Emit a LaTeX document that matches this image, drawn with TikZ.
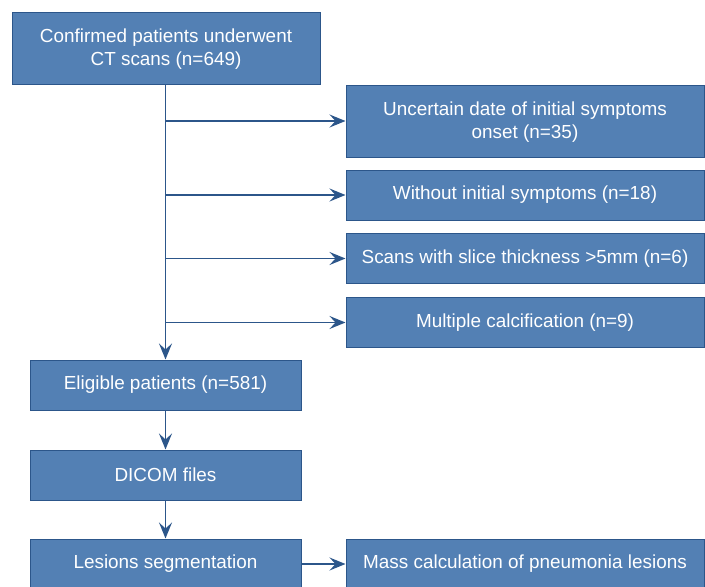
\documentclass[tikz,border=0pt]{standalone}
\usepackage{fontspec}
\setmainfont{Liberation Sans}
\usetikzlibrary{arrows.meta}
\definecolor{boxfill}{RGB}{83,128,180}
\definecolor{boxline}{RGB}{44,86,138}
\definecolor{arrowc}{RGB}{44,86,138}
\begin{document}
\begin{tikzpicture}[x=1pt,y=-1pt,
  box/.style={draw=boxline,line width=1pt,fill=boxfill,text=white,font=\fontsize{18.9}{22.5}\selectfont,align=center,inner sep=0pt},
  conn/.style={draw=arrowc,line width=1.5pt,-{Stealth[length=16pt,width=13pt,inset=6pt]}}]
\useasboundingbox (0,0) rectangle (705,587);
\node[box,minimum width=308pt,minimum height=72pt] (top) at (166,48) {\strut Confirmed patients underwent\\CT scans (n=649)};
\node[box,minimum width=358pt,minimum height=72pt] (r1) at (525,121) {\strut Uncertain date of initial symptoms\\onset (n=35)};
\node[box,minimum width=358pt,minimum height=50pt] (r2) at (525,195) {Without initial symptoms (n=18)};
\node[box,minimum width=358pt,minimum height=50pt] (r3) at (525,258.5) {Scans with slice thickness {>}5mm (n=6)};
\node[box,minimum width=358pt,minimum height=50pt] (r4) at (525,322.5) {Multiple calcification (n=9)};
\node[box,minimum width=271pt,minimum height=50pt] (elig) at (165.5,385) {Eligible patients (n=581)};
\node[box,minimum width=271pt,minimum height=50pt] (dicom) at (165.5,475) {DICOM files};
\node[box,minimum width=271pt,minimum height=50pt] (les) at (165.5,564) {Lesions segmentation};
\node[box,minimum width=358pt,minimum height=50pt] (mass) at (525,564) {Mass calculation of pneumonia lesions};
\coordinate (b1) at (166,121);
\coordinate (b2) at (166,195);
\coordinate (b3) at (166,258.5);
\coordinate (b4) at (166,322.5);
\draw[conn] (top.south -| elig.north) -- (elig.north);
\draw[conn] (b1) -- (r1.west);
\draw[conn] (b2) -- (r2.west);
\draw[conn] (b3) -- (r3.west);
\draw[conn] (b4) -- (r4.west);
\draw[conn] (elig) -- (dicom);
\draw[conn] (dicom) -- (les);
\draw[conn] (les) -- (mass);
\end{tikzpicture}
\end{document}
